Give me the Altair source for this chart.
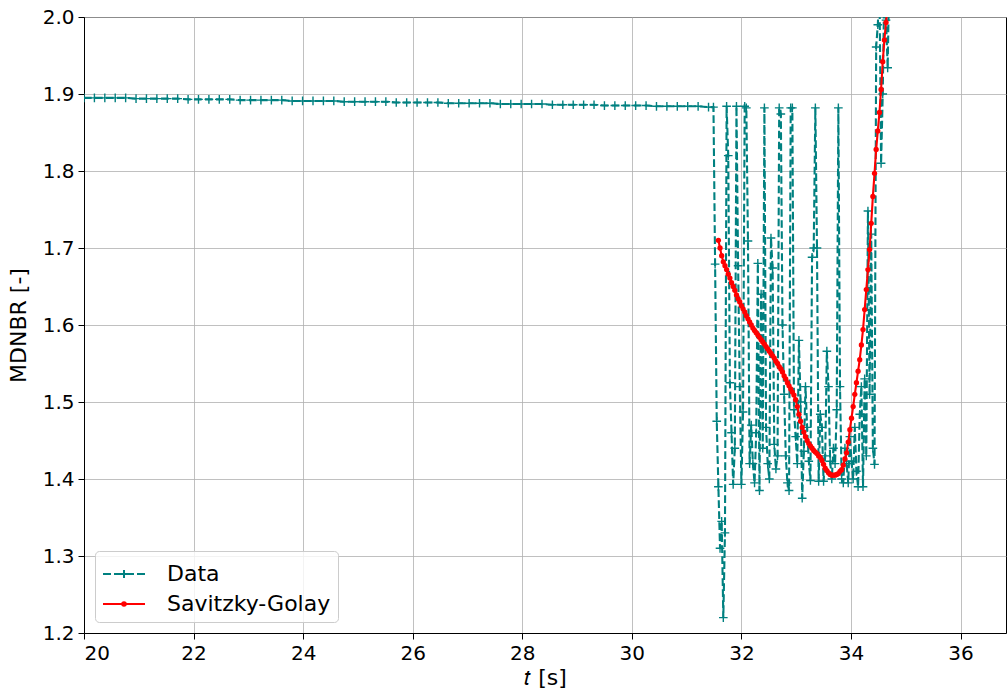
import altair as alt
import pandas as pd

TEAL = "#008080"

# Flat part of the measured data (t in s, MDNBR)
flat_t = [20.00, 20.19, 20.38, 20.57, 20.76, 20.95, 21.14, 21.33, 21.52, 21.71,
          21.90, 22.09, 22.28, 22.47, 22.66, 22.85, 23.04, 23.23, 23.42, 23.61,
          23.80, 23.99, 24.18, 24.37, 24.56, 24.75, 24.94, 25.13, 25.32, 25.51,
          25.70, 25.89, 26.08, 26.27, 26.46, 26.65, 26.84, 27.03, 27.22, 27.41,
          27.60, 27.79, 27.98, 28.17, 28.36, 28.55, 28.74, 28.93, 29.12, 29.31,
          29.50, 29.69, 29.88, 30.07, 30.26, 30.45, 30.64, 30.83, 31.02, 31.21,
          31.40, 31.49]
flat_y = [1.895, 1.895, 1.895, 1.895, 1.895, 1.894, 1.894, 1.894, 1.894, 1.894,
          1.893, 1.893, 1.893, 1.893, 1.893, 1.892, 1.892, 1.892, 1.892, 1.892,
          1.891, 1.891, 1.891, 1.891, 1.891, 1.890, 1.890, 1.890, 1.890, 1.890,
          1.889, 1.889, 1.889, 1.889, 1.889, 1.888, 1.888, 1.888, 1.888, 1.888,
          1.887, 1.887, 1.887, 1.887, 1.887, 1.886, 1.886, 1.886, 1.886, 1.886,
          1.885, 1.885, 1.885, 1.885, 1.885, 1.884, 1.884, 1.884, 1.884, 1.884,
          1.883, 1.883]

# Oscillating part of the measured data (t, MDNBR)
noisy = [
    (31.52, 1.679), (31.55, 1.475), (31.58, 1.390), (31.61, 1.310), (31.64, 1.345),
    (31.67, 1.220), (31.70, 1.330), (31.73, 1.884), (31.76, 1.820), (31.79, 1.525),
    (31.82, 1.460), (31.85, 1.393), (31.88, 1.440), (31.91, 1.884), (31.94, 1.677),
    (31.97, 1.520), (32.00, 1.393), (32.03, 1.487), (32.06, 1.884), (32.09, 1.882),
    (32.12, 1.709), (32.15, 1.420), (32.18, 1.470), (32.21, 1.420), (32.24, 1.395),
    (32.27, 1.460), (32.30, 1.680), (32.33, 1.385), (32.36, 1.640), (32.39, 1.440),
    (32.42, 1.882), (32.45, 1.467), (32.48, 1.420), (32.51, 1.400), (32.54, 1.713),
    (32.57, 1.674), (32.60, 1.445), (32.63, 1.413), (32.66, 1.430), (32.69, 1.882),
    (32.72, 1.874), (32.75, 1.600), (32.78, 1.510), (32.81, 1.430), (32.84, 1.395),
    (32.87, 1.385), (32.90, 1.882), (32.93, 1.882), (32.96, 1.490), (32.99, 1.455),
    (33.02, 1.420), (33.05, 1.580), (33.08, 1.500), (33.11, 1.375), (33.14, 1.436),
    (33.17, 1.520), (33.20, 1.467), (33.23, 1.423), (33.26, 1.398), (33.29, 1.688),
    (33.32, 1.700), (33.35, 1.882), (33.38, 1.700), (33.41, 1.397), (33.44, 1.484),
    (33.47, 1.467), (33.50, 1.397), (33.53, 1.430), (33.56, 1.566), (33.59, 1.520),
    (33.62, 1.423), (33.65, 1.400), (33.68, 1.440), (33.71, 1.420), (33.74, 1.490),
    (33.77, 1.882), (33.80, 1.520), (33.83, 1.400), (33.86, 1.395), (33.89, 1.440),
    (33.92, 1.420), (33.95, 1.395), (33.98, 1.455), (34.01, 1.423), (34.04, 1.400),
    (34.07, 1.467), (34.10, 1.410), (34.13, 1.390), (34.16, 1.484), (34.19, 1.520),
    (34.22, 1.390), (34.25, 1.530), (34.28, 1.430), (34.31, 1.748), (34.34, 1.510),
    (34.37, 1.718), (34.40, 1.440), (34.43, 1.419), (34.46, 1.961), (34.49, 1.990),
    (34.52, 2.040), (34.55, 1.810), (34.58, 1.900), (34.61, 2.050), (34.64, 1.996),
    (34.67, 1.934), (34.70, 2.060),
]

# Savitzky-Golay smoothed curve (t, MDNBR)
sg = [
    (31.58, 1.710), (31.61, 1.700), (31.64, 1.690), (31.67, 1.682), (31.70, 1.677),
    (31.73, 1.672), (31.76, 1.666), (31.79, 1.661), (31.82, 1.655), (31.85, 1.650),
    (31.88, 1.645), (31.91, 1.639), (31.94, 1.634), (31.97, 1.630), (32.00, 1.625),
    (32.03, 1.621), (32.06, 1.617), (32.09, 1.612), (32.12, 1.608), (32.15, 1.604),
    (32.18, 1.600), (32.21, 1.596), (32.24, 1.593), (32.27, 1.590), (32.30, 1.587),
    (32.33, 1.584), (32.36, 1.581), (32.39, 1.578), (32.42, 1.575), (32.45, 1.572),
    (32.48, 1.569), (32.51, 1.566), (32.54, 1.563), (32.57, 1.560), (32.60, 1.557),
    (32.63, 1.553), (32.66, 1.550), (32.69, 1.546), (32.72, 1.543), (32.75, 1.539),
    (32.78, 1.534), (32.81, 1.530), (32.84, 1.525), (32.87, 1.521), (32.90, 1.517),
    (32.93, 1.513), (32.96, 1.509), (32.99, 1.503), (33.02, 1.494), (33.05, 1.484),
    (33.08, 1.475), (33.11, 1.467), (33.14, 1.461), (33.17, 1.455), (33.20, 1.450),
    (33.23, 1.446), (33.26, 1.443), (33.29, 1.440), (33.32, 1.437), (33.35, 1.435),
    (33.38, 1.433), (33.41, 1.430), (33.44, 1.428), (33.47, 1.424), (33.50, 1.419),
    (33.53, 1.414), (33.56, 1.411), (33.59, 1.408), (33.62, 1.406), (33.65, 1.405),
    (33.68, 1.405), (33.71, 1.405), (33.74, 1.406), (33.77, 1.407), (33.80, 1.410),
    (33.83, 1.412), (33.86, 1.418), (33.89, 1.426), (33.92, 1.434), (33.95, 1.448),
    (33.98, 1.464), (34.01, 1.479), (34.04, 1.494), (34.07, 1.510), (34.10, 1.525),
    (34.13, 1.540), (34.16, 1.555), (34.19, 1.574), (34.22, 1.594), (34.25, 1.620),
    (34.28, 1.646), (34.31, 1.672), (34.34, 1.698), (34.37, 1.732), (34.40, 1.767),
    (34.43, 1.797), (34.46, 1.828), (34.49, 1.852), (34.52, 1.876), (34.55, 1.906),
    (34.58, 1.942), (34.61, 1.970), (34.64, 1.993), (34.67, 2.015),
]

series_names = ["Data", "Savitzky-Golay"]
series_colors = [TEAL, "red"]
x_ticks = [20, 22, 24, 26, 28, 30, 32, 34, 36]
y_ticks = [1.2, 1.3, 1.4, 1.5, 1.6, 1.7, 1.8, 1.9, 2.0]

data_t = flat_t + [p[0] for p in noisy]
data_y = flat_y + [p[1] for p in noisy]
data_df = pd.DataFrame({"t": data_t, "y": data_y, "i": range(len(data_t))})
sg_df = pd.DataFrame({"t": [p[0] for p in sg], "y": [p[1] for p in sg],
                      "i": range(len(sg))})
legend_df = pd.DataFrame({"t": [19.0, 19.0], "y": [1.5, 1.5], "series": series_names})

FONT = "DejaVu Sans"
LABEL_FS = 20
TITLE_FS = 22

x_scale = alt.Scale(domain=[20, 36.83], nice=False, zero=False)
y_scale = alt.Scale(domain=[1.2, 2.0], nice=False, zero=False)
x_enc = alt.X("t:Q", scale=x_scale,
              axis=alt.Axis(values=x_ticks, format="d", title="\U0001D461 [s]",
                            titlePadding=4))
y_enc = alt.Y("y:Q", scale=y_scale,
              axis=alt.Axis(values=y_ticks, format=".1f", title="MDNBR [-]",
                            titlePadding=12))

plus_path = "M-1,0L1,0M0,-1L0,1"
leg_data_path = ("M-1,0L-0.467,0M-0.267,0L0.267,0M0.533,0L1.067,0M1.267,0L1.8,0"
                 "M0.133,0L0.667,0M0.4,-0.267L0.4,0.267")
leg_sg_path = ("M-1,0L1.8,0M0.52,0A0.12,0.12 0 1,1 0.28,0A0.12,0.12 0 1,1 0.52,0")

data_line = alt.Chart(data_df).mark_line(
    color=TEAL, strokeDash=[7.7, 3.3], strokeWidth=2.1, clip=True
).encode(x=x_enc, y=y_enc, order="i:Q")

data_pts = alt.Chart(data_df).mark_point(
    shape=plus_path, size=75, color=TEAL, strokeWidth=1.4, filled=False,
    opacity=1, clip=True
).encode(x=x_enc, y=y_enc)

sg_line = alt.Chart(sg_df).mark_line(
    color="red", strokeWidth=2.1, clip=True
).encode(x=x_enc, y=y_enc, order="i:Q")

sg_pts = alt.Chart(sg_df).mark_circle(
    color="red", size=28, opacity=1, clip=True
).encode(x=x_enc, y=y_enc)

leg = alt.Legend(orient="bottom-left", offset=11, padding=7,
                 fillColor="rgba(255,255,255,0.8)", strokeColor="#cccccc",
                 cornerRadius=4, labelFontSize=TITLE_FS, labelFont=FONT,
                 labelColor="black", labelLimit=400, symbolSize=900,
                 symbolStrokeWidth=2, labelOffset=33, rowPadding=3, symbolOpacity=1)

legend_layer = alt.Chart(legend_df).mark_point(
    filled=False, clip=True, opacity=1, strokeWidth=2
).encode(
    x=x_enc, y=y_enc,
    color=alt.Color("series:N", scale=alt.Scale(domain=series_names, range=series_colors),
                    legend=leg, title=None),
    shape=alt.Shape("series:N", scale=alt.Scale(domain=series_names,
                                                range=[leg_data_path, leg_sg_path]),
                    legend=leg, title=None),
)

chart = alt.layer(data_line, data_pts, sg_line, sg_pts, legend_layer).properties(
    width=922, height=616,
    autosize=alt.AutoSizeParams(type="none"),
    padding={"left": 84, "top": 17, "right": 1, "bottom": 58},
    background="white",
).configure_view(
    stroke="black", strokeWidth=1
).configure_axis(
    grid=True, gridColor="#b0b0b0", gridWidth=0.8,
    domainColor="black", domainWidth=1, tickColor="black", tickSize=6, tickWidth=1,
    labelFont=FONT, labelFontSize=LABEL_FS, labelColor="black", labelPadding=4,
    titleFont=FONT, titleFontSize=TITLE_FS, titleFontWeight="normal", titleColor="black",
)

chart.save("out.html", embed_options={"renderer": "svg", "actions": False})
